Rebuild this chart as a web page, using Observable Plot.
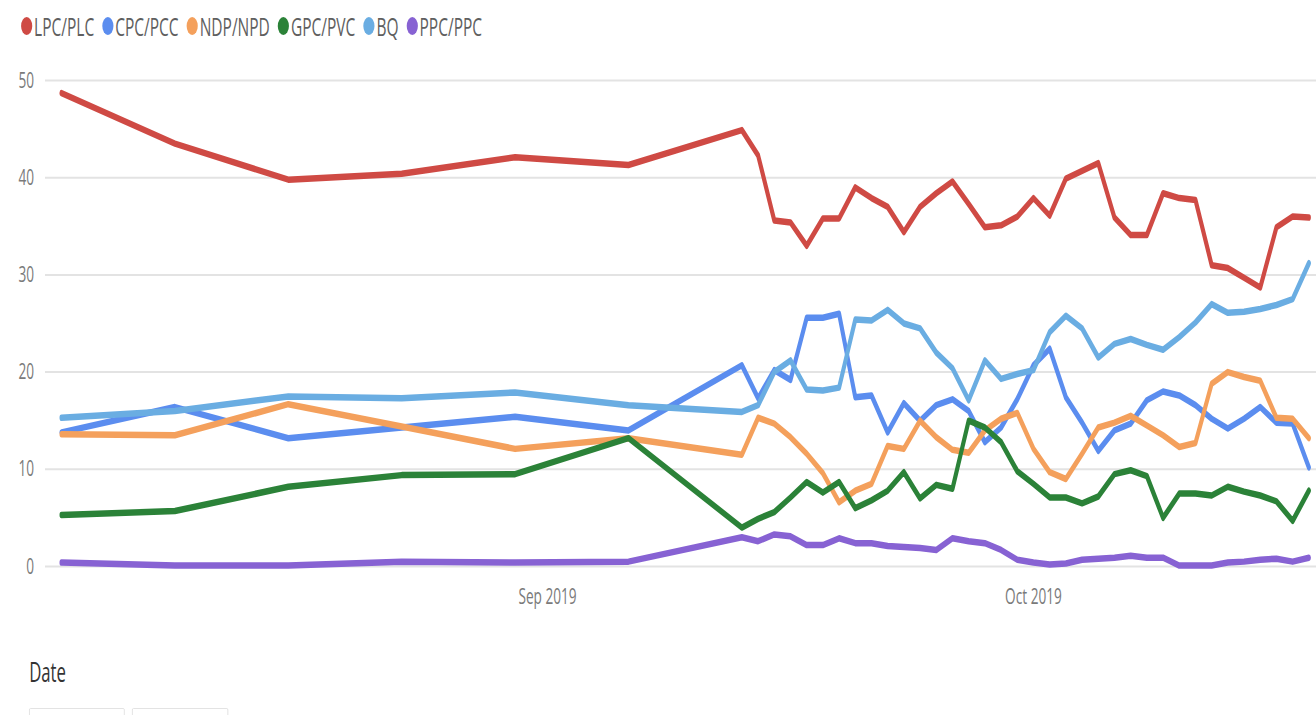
<!DOCTYPE html>
<html>
<head>
<meta charset="utf-8">
<script src="https://cdn.jsdelivr.net/npm/d3@7"></script>
<script src="https://cdn.jsdelivr.net/npm/@observablehq/plot@0.6"></script>
<style>
  html, body { margin: 0; padding: 0; background: #fff; overflow: hidden; }
  #wrap { position: relative; transform-origin: 0 0; font-family: "Open Sans", sans-serif; }
  #legend { height: 52px; display: flex; align-items: center; padding-left: 34px; box-sizing: border-box; }
  .item { display: flex; align-items: center; margin-right: 13px; font-size: 25px; color: #5f5f5f; }
  .dot { width: 18px; height: 18px; border-radius: 50%; margin-right: 3px; }
  #datelabel { position: absolute; left: 47px; top: 658px; font-size: 27px; line-height: 27px; color: #333; }
  .box { position: absolute; top: 708px; height: 30px; border: 1px solid #dcdcdc; border-radius: 2px; background: #fff; }
</style>
</head>
<body>
<div id="wrap">
  <div id="legend"></div>
  <div id="chart"></div>
  <div id="datelabel">Date</div>
  <div class="box" style="left:47px;width:152px"></div>
  <div class="box" style="left:213px;width:153px"></div>
</div>
<script>
const parties = ["LPC/PLC", "CPC/PCC", "NDP/NPD", "GPC/PVC", "BQ", "PPC/PPC"];
const colors = ["#cf4a44", "#5b8def", "#f4a05c", "#2b8238", "#6aade2", "#8762d3"];

const dates = [
  "2019-08-02","2019-08-09","2019-08-16","2019-08-23","2019-08-30","2019-09-06",
  "2019-09-13","2019-09-14","2019-09-15","2019-09-16","2019-09-17","2019-09-18",
  "2019-09-19","2019-09-20","2019-09-21","2019-09-22","2019-09-23","2019-09-24",
  "2019-09-25","2019-09-26","2019-09-27","2019-09-28","2019-09-29","2019-09-30",
  "2019-10-01","2019-10-02","2019-10-03","2019-10-04","2019-10-05","2019-10-06",
  "2019-10-07","2019-10-08","2019-10-09","2019-10-10","2019-10-11","2019-10-12",
  "2019-10-13","2019-10-14","2019-10-15","2019-10-16","2019-10-17","2019-10-18"
];

const lpc = [48.7, 43.5, 39.8, 40.4, 42.1, 41.3,
  44.9, 42.3, 35.6, 35.4, 33.0, 35.8, 35.8, 39.0, 37.9, 37.0, 34.4, 37.0,
  38.4, 39.6, 37.3, 34.9, 35.1, 36.0, 37.9, 36.1, 39.9, 40.7, 41.5, 35.9,
  34.1, 34.1, 38.4, 37.9, 37.7, 31.0, 30.7, 29.7, 28.7, 34.9, 36.0, 35.9];
const cpc = [13.8, 16.4, 13.2, 14.3, 15.4, 14.0,
  20.7, 17.3, 20.2, 19.2, 25.6, 25.6, 26.0, 17.4, 17.6, 13.8, 16.8, 15.0,
  16.6, 17.2, 16.0, 12.8, 14.3, 17.2, 20.7, 22.4, 17.4, 14.8, 11.9, 14.0,
  14.7, 17.1, 18.0, 17.6, 16.6, 15.2, 14.2, 15.2, 16.4, 14.8, 14.7, 10.2];
const ndp = [13.6, 13.5, 16.7, 14.4, 12.1, 13.2,
  11.5, 15.3, 14.7, 13.3, 11.6, 9.6, 6.6, 7.8, 8.5, 12.4, 12.1, 15.0,
  13.3, 12.0, 11.7, 14.0, 15.2, 15.8, 12.1, 9.7, 9.0, 11.6, 14.3, 14.8,
  15.5, 14.5, 13.5, 12.3, 12.7, 18.8, 20.0, 19.5, 19.1, 15.3, 15.2, 13.2];
const gpc = [5.3, 5.7, 8.2, 9.4, 9.5, 13.2,
  4.0, 4.9, 5.6, 7.1, 8.7, 7.6, 8.7, 6.0, 6.8, 7.8, 9.7, 7.0,
  8.4, 8.0, 15.0, 14.3, 12.8, 9.8, 8.5, 7.1, 7.1, 6.5, 7.2, 9.5,
  9.9, 9.3, 5.0, 7.5, 7.5, 7.3, 8.2, 7.7, 7.3, 6.7, 4.7, 7.8];
const bq = [15.3, 16.0, 17.5, 17.3, 17.9, 16.6,
  15.9, 16.6, 20.0, 21.2, 18.2, 18.1, 18.4, 25.4, 25.3, 26.4, 25.0, 24.5,
  22.0, 20.4, 17.1, 21.2, 19.3, 19.8, 20.2, 24.1, 25.8, 24.5, 21.5, 22.9,
  23.4, 22.8, 22.3, 23.6, 25.1, 27.0, 26.1, 26.2, 26.5, 26.9, 27.5, 31.2];
const ppc = [0.4, 0.1, 0.1, 0.5, 0.4, 0.5,
  3.0, 2.6, 3.3, 3.1, 2.2, 2.2, 2.9, 2.4, 2.4, 2.1, 2.0, 1.9,
  1.7, 2.9, 2.6, 2.4, 1.7, 0.7, 0.4, 0.2, 0.3, 0.7, 0.8, 0.9,
  1.1, 0.9, 0.9, 0.1, 0.1, 0.1, 0.4, 0.5, 0.7, 0.8, 0.5, 0.9];

const yTicks = [0, 10, 20, 30, 40, 50];
const xTicks = ["2019-09-01", "2019-10-01"];

// horizontal compression of the whole picture
const SX = 0.62;
const W = 1316 / SX;

const seriesValues = [lpc, cpc, ndp, gpc, bq, ppc];
const data = [];
parties.forEach((p, k) => {
  seriesValues[k].forEach((v, i) => data.push({ date: new Date(dates[i]), party: p, value: v }));
});

const wrap = document.getElementById("wrap");
wrap.style.width = W + "px";
wrap.style.height = "760px";
wrap.style.transform = `scaleX(${SX})`;

const legend = document.getElementById("legend");
parties.forEach((p, k) => {
  const it = document.createElement("div");
  it.className = "item";
  const dot = document.createElement("span");
  dot.className = "dot";
  dot.style.background = colors[k];
  const t = document.createElement("span");
  t.textContent = p;
  it.appendChild(dot);
  it.appendChild(t);
  legend.appendChild(it);
});

const chart = Plot.plot({
  width: W,
  height: 570,
  marginTop: 28,
  marginBottom: 56,
  marginLeft: 45 / SX,
  marginRight: 0,
  style: { fontFamily: "Open Sans, sans-serif", fontSize: "22px", color: "#7a7a7a", background: "white", overflow: "visible" },
  x: { type: "utc", domain: [new Date("2019-08-01"), new Date("2019-10-18T11:00:00Z")] },
  y: { domain: [0, 50] },
  color: { domain: parties, range: colors },
  marks: [
    Plot.gridY(yTicks, { stroke: "#e3e3e3", strokeOpacity: 1, strokeWidth: 2 }),
    Plot.axisY(yTicks, { tickSize: 0, tickPadding: 18, label: null, fontSize: 22 }),
    Plot.axisX(xTicks.map(d => new Date(d)), { tickSize: 0, tickPadding: 22, label: null, tickFormat: d3.utcFormat("%b %Y"), fontSize: 22 }),
    Plot.line(data, { x: "date", y: "value", z: "party", stroke: "party", strokeWidth: 6.5, strokeLinejoin: "round", strokeLinecap: "round" })
  ]
});
document.getElementById("chart").appendChild(chart);
</script>
</body>
</html>
